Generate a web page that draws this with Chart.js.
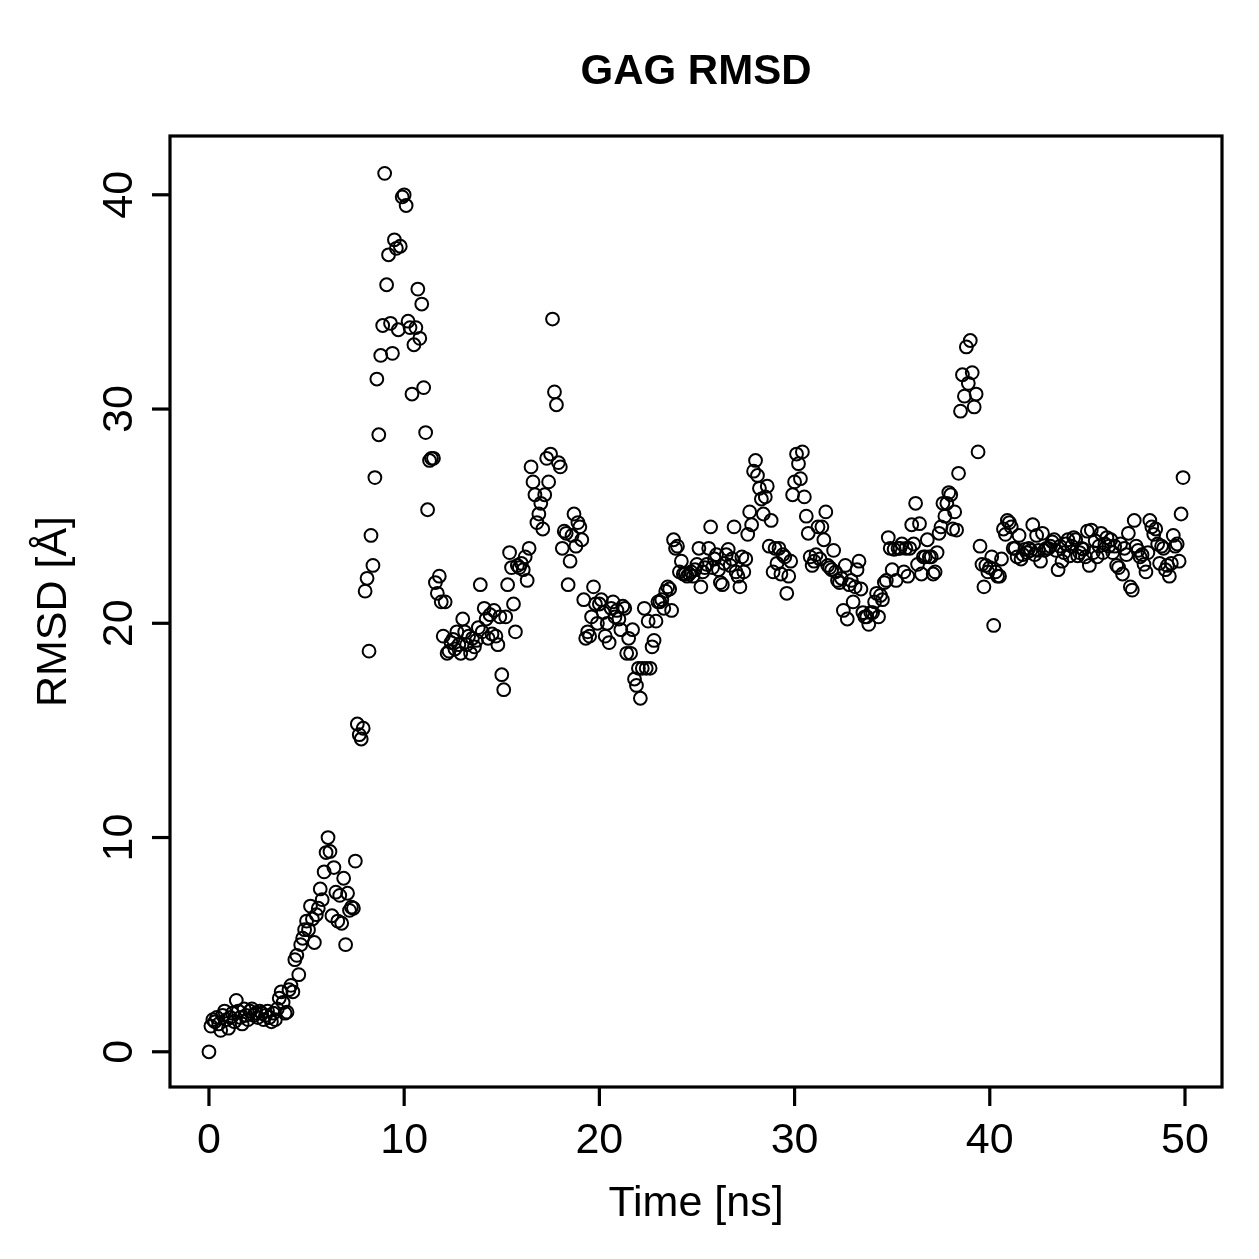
<!DOCTYPE html>
<html><head><meta charset="utf-8">
<script src="https://cdn.jsdelivr.net/npm/chart.js@4.4.1/dist/chart.umd.min.js"></script>
<style>html,body{margin:0;padding:0;background:#fff;}canvas{display:block;}</style>
</head><body>
<canvas id="c" width="1259" height="1259"></canvas>
<script>
const chartTitle = "GAG RMSD";
const xTitle = "Time [ns]";
const yTitle = "RMSD [Å]";
const xTicks = [0, 10, 20, 30, 40, 50];
const yTicks = [0, 10, 20, 30, 40];
const timeStep = 0.1; // ns between frames

const rmsd_0_10 = [
  0.0,1.2,1.5,1.4,1.6,1.3,1.0,1.7,1.9,1.5,
  1.1,1.6,1.8,1.4,2.4,1.9,1.6,1.3,2.0,1.7,
  1.5,1.9,2.0,1.7,1.8,1.6,1.9,1.8,1.5,1.7,
  1.9,1.6,1.4,1.8,1.5,2.0,2.5,2.8,2.3,1.8,
  1.85,2.9,3.1,2.8,4.3,4.5,3.6,5.0,5.3,5.7,
  6.1,5.7,6.8,6.2,5.1,6.4,6.7,7.6,7.1,8.4,
  9.3,10.0,9.35,6.35,8.6,7.45,6.1,7.3,6.0,8.1,
  5.0,7.4,6.6,6.75,6.7,8.9,15.3,14.8,14.6,15.1,
  21.5,22.1,18.7,24.1,22.7,26.8,31.4,28.8,32.5,33.9,
  41.0,35.8,37.2,34.0,32.6,37.9,37.5,33.7,37.6,39.9
];
const rmsd_10_20 = [
  40.0,39.5,34.1,33.8,30.7,33.0,33.8,35.6,33.3,34.9,
  31.0,28.9,25.3,27.6,27.7,27.7,21.9,21.4,22.2,21.0,
  19.4,21.0,18.6,18.7,19.1,19.25,18.8,19.6,19.0,18.6,
  20.2,19.6,19.0,19.4,18.6,19.3,18.9,19.2,19.8,21.8,
  19.6,20.7,20.2,19.3,20.4,19.5,20.6,19.4,19.0,20.3,
  17.6,16.9,20.3,21.8,23.3,22.6,20.9,19.6,22.7,22.6,
  22.8,22.5,23.1,22.0,23.5,27.3,26.6,26.0,24.7,25.1,
  25.6,24.4,26.0,27.7,26.6,27.9,34.2,30.8,30.2,27.5,
  27.3,23.5,24.3,24.2,21.8,22.9,24.1,25.1,23.6,24.7,
  24.5,23.9,21.1,19.3,19.6,19.4,20.3,21.7,20.9,20.0
];
const rmsd_20_30 = [
  20.9,21.1,20.5,19.4,20.0,19.1,20.7,21.0,20.3,20.6,
  20.2,19.7,20.8,20.7,18.6,19.3,18.6,19.7,17.4,17.1,
  17.9,16.5,17.9,20.7,17.9,20.1,17.9,18.9,19.2,20.1,
  21.0,21.0,21.1,20.7,21.5,21.7,21.6,20.6,23.9,23.5,
  23.6,22.4,22.9,22.3,22.3,22.2,22.3,22.4,22.2,22.5,
  22.75,23.5,21.7,22.4,22.6,22.75,23.5,24.5,22.6,23.0,
  23.2,22.5,21.9,21.8,22.8,23.2,23.45,22.7,23.0,24.5,
  22.4,22.2,21.7,23.1,22.4,23.0,24.15,25.2,24.6,27.1,
  27.6,26.9,26.3,25.8,25.1,25.9,26.4,23.6,24.8,22.4,
  23.5,22.8,23.5,22.3,23.2,23.1,21.4,22.2,22.9,26.0
];
const rmsd_30_40 = [
  26.6,27.9,27.45,26.75,28.0,25.9,25.0,24.2,23.1,22.7,
  22.9,23.2,24.5,23.0,24.5,23.9,25.2,22.7,22.6,22.5,
  23.4,22.4,22.0,21.9,22.1,20.6,22.7,20.2,21.8,22.0,
  21.0,21.7,22.5,22.9,21.6,20.5,20.3,20.3,19.95,20.5,
  20.5,21.0,21.4,20.3,21.3,21.1,21.9,22.0,24.0,23.5,
  22.5,23.45,22.0,23.5,23.5,23.7,22.4,23.5,22.2,23.5,
  24.6,23.7,25.6,22.75,24.65,22.3,23.1,23.1,23.9,23.1,
  23.1,22.3,22.4,23.3,24.2,24.5,25.6,25.0,25.6,26.1,
  26.0,24.4,25.2,24.35,27.0,29.9,31.6,30.6,32.9,31.2,
  33.2,31.7,30.1,30.7,28.0,23.6,22.75,21.7,22.7,22.4
];
const rmsd_40_50 = [
  22.6,23.1,19.9,22.4,22.2,22.2,23.0,24.4,24.15,24.8,
  24.7,24.5,23.5,23.5,23.1,24.1,23.0,23.2,23.45,23.3,
  23.5,23.4,24.6,23.2,24.1,23.4,22.9,24.2,23.4,23.5,
  23.5,23.6,23.8,23.9,23.4,22.5,23.6,22.9,23.3,23.7,
  23.9,23.15,23.6,24.0,23.9,23.15,23.3,23.5,23.45,23.1,
  24.3,22.7,24.35,23.3,23.85,23.1,23.6,24.2,23.3,23.7,
  24.0,23.6,23.9,23.3,23.6,22.7,22.6,23.7,22.3,23.5,
  23.2,24.2,21.7,21.55,24.8,23.6,23.4,23.1,23.2,22.75,
  22.4,23.3,24.8,24.5,24.15,24.4,23.7,22.8,23.6,23.5,
  22.5,22.7,22.2,22.8,24.1,23.6,23.7,22.9,25.1,26.8
];

const rmsd = [].concat(rmsd_0_10, rmsd_10_20, rmsd_20_30, rmsd_30_40, rmsd_40_50);
const times = rmsd.map((_, i) => Math.round(i * timeStep * 10) / 10);
const points = rmsd.map((v, i) => ({ x: times[i], y: v }));

const FONT = '"Liberation Sans", Arial, Helvetica, sans-serif';

const rAxes = {
  id: 'rAxes',
  afterDraw(chart) {
    const ctx = chart.ctx, ca = chart.chartArea;
    const xs = chart.scales.x, ys = chart.scales.y;
    ctx.save();
    ctx.strokeStyle = '#000';
    ctx.fillStyle = '#000';
    ctx.lineWidth = 3.2;
    ctx.lineCap = 'butt';
    ctx.strokeRect(ca.left, ca.top, ca.right - ca.left, ca.bottom - ca.top);

    ctx.font = '43px ' + FONT;
    ctx.textAlign = 'center';
    ctx.textBaseline = 'alphabetic';
    xTicks.forEach(v => {
      const px = xs.getPixelForValue(v);
      ctx.beginPath();
      ctx.moveTo(px, ca.bottom);
      ctx.lineTo(px, ca.bottom + 19);
      ctx.stroke();
      ctx.fillText(String(v), px, 1153);
    });
    yTicks.forEach(v => {
      const py = ys.getPixelForValue(v);
      ctx.beginPath();
      ctx.moveTo(ca.left, py);
      ctx.lineTo(ca.left - 18, py);
      ctx.stroke();
      ctx.save();
      ctx.translate(132, py);
      ctx.rotate(-Math.PI / 2);
      ctx.fillText(String(v), 0, 0);
      ctx.restore();
    });

    ctx.fillText(xTitle, (ca.left + ca.right) / 2, 1216);
    ctx.save();
    ctx.translate(66, (ca.top + ca.bottom) / 2);
    ctx.rotate(-Math.PI / 2);
    ctx.fillText(yTitle, 0, 0);
    ctx.restore();

    ctx.font = 'bold 42px ' + FONT;
    ctx.fillText(chartTitle, (ca.left + ca.right) / 2, 84);
    ctx.restore();
  }
};

new Chart(document.getElementById('c'), {
  type: 'scatter',
  data: {
    datasets: [{
      data: points,
      pointStyle: 'circle',
      pointRadius: 6.4,
      pointHoverRadius: 6.4,
      pointBorderWidth: 2,
      borderColor: '#000',
      backgroundColor: 'rgba(0,0,0,0)',
      pointBackgroundColor: 'rgba(0,0,0,0)',
      pointBorderColor: '#000'
    }]
  },
  options: {
    responsive: false,
    animation: false,
    devicePixelRatio: 1,
    layout: { padding: { left: 170, top: 136, right: 37, bottom: 172 } },
    plugins: { legend: { display: false }, tooltip: { enabled: false }, title: { display: false } },
    scales: {
      x: { type: 'linear', display: false, min: -1.996, max: 51.896 },
      y: { type: 'linear', display: false, min: -1.644, max: 42.744 }
    }
  },
  plugins: [rAxes]
});
</script>
</body></html>
